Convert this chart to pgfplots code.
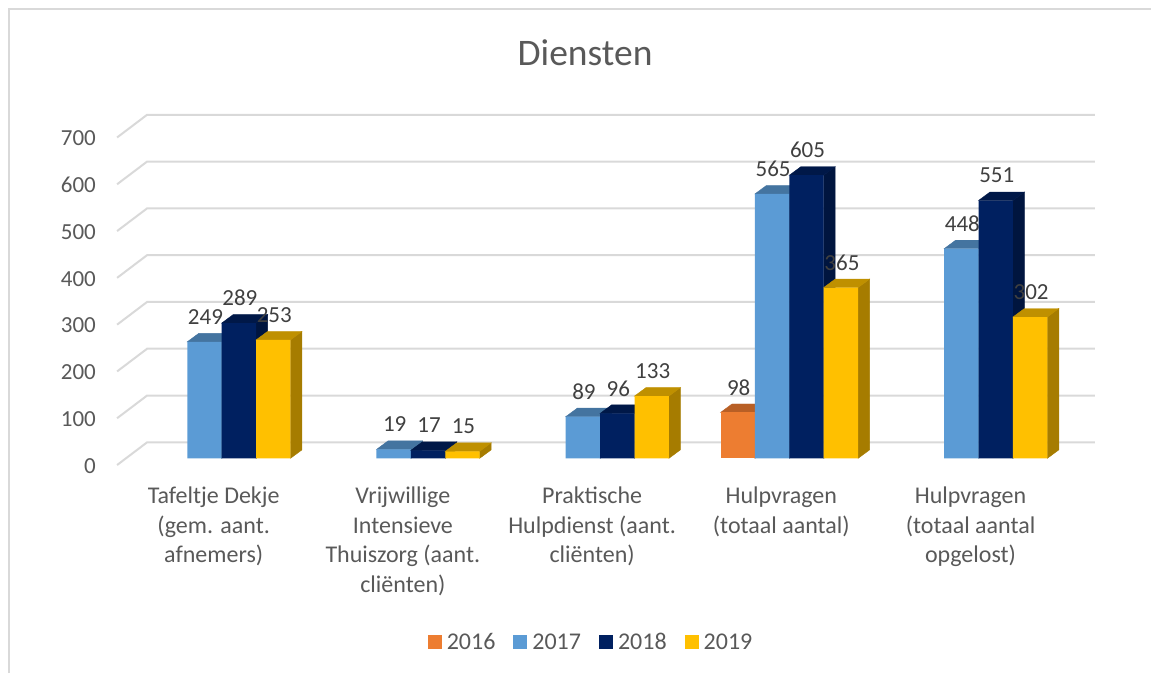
\documentclass[border=0pt]{standalone}
\usepackage{fontspec}
\setmainfont{Carlito}
\usepackage{pgfplots}
\pgfplotsset{compat=1.18}
\definecolor{c16}{HTML}{ED7D31}\definecolor{t16}{HTML}{B85F25}\definecolor{s16}{HTML}{A35420}
\definecolor{c17}{HTML}{5B9BD5}\definecolor{t17}{HTML}{4474A0}\definecolor{s17}{HTML}{3B658B}
\definecolor{c18}{HTML}{002060}\definecolor{t18}{HTML}{001848}\definecolor{s18}{HTML}{00153F}
\definecolor{c19}{HTML}{FFC000}\definecolor{t19}{HTML}{BF9000}\definecolor{s19}{HTML}{A67C00}
\definecolor{gridc}{HTML}{D9D9D9}
\pgfdeclareplotmark{nil}{}
% #1 colour suffix, #2 bar shift in pt
\pgfplotsset{faces/.style n args={2}{
  forget plot, only marks, scatter, mark=nil,
  visualization depends on={rawy \as \rawyval},
  scatter/@pre marker code/.code={%
    \pgfmathsetmacro\hh{\rawyval*0.468}%
    \fill[s#1] ({#2+17.2pt},0pt) -- ++(11.5pt,8.5pt) -- ++(0pt,-\hh pt) -- ++(-11.5pt,-8.5pt) -- cycle;
    \fill[t#1] ({#2-17.2pt},0pt) -- ++(11.5pt,8.5pt) -- ++(34.4pt,0pt) -- ++(-11.5pt,-8.5pt) -- cycle;
    \begingroup},
  scatter/@post marker code/.code={\endgroup},
}}
\pgfplotsset{front/.style n args={2}{
  ybar, bar width=34.4pt, bar shift=#2, fill=c#1, draw=none,
  nodes near coords, /pgf/number format/assume math mode=true,
  every node near coord/.append style={anchor=center, yshift=25pt, xshift=#2+1pt, text=black!75,
     font=\fontsize{23}{26}\selectfont, /pgf/number format/assume math mode=true},
}}
\begin{document}
\begin{tikzpicture}
\begin{axis}[
  scale only axis, width=1151pt, height=673pt,
  xmin=-1.1710, xmax=4.9110, ymin=-458.76, ymax=979.3,
  axis line style={draw=none}, major tick length=0pt,
  xtick={0,1,2,3,4},
  xticklabels={{Tafeltje Dekje\\(gem. aant.\\afnemers)},
    {Vrijwillige\\Intensieve\\Thuiszorg (aant.\\cliënten)},
    {Praktische\\Hulpdienst (aant.\\cliënten)},
    {Hulpvragen\\(totaal aantal)},
    {Hulpvragen\\(totaal aantal\\opgelost)}},
  xticklabel style={align=center, anchor=north, inner sep=0pt, xshift=-8pt, yshift=186pt,
     text=black!65, font=\fontsize{24}{29.5}\selectfont},
  ytick={0,100,...,700},
  yticklabel style={anchor=east, inner sep=0pt, xshift=96pt, yshift=-7.5pt,
     text=black!65, font=\fontsize{23}{26}\selectfont, /pgf/number format/assume math mode=true},
  title={Diensten},
  title style={at={(0.5083,0.9123)}, anchor=center, inner sep=0pt, text=black!65, font=\fontsize{37.5}{42}\selectfont},
  legend style={at={(0.5135,0.0460)}, anchor=center, draw=none, fill=none, legend columns=4,
     font=\fontsize{24}{28}\selectfont, text=black!65,
     /tikz/every odd column/.append style={column sep=3pt},
     /tikz/every even column/.append style={column sep=16pt}},
  legend image code/.code={\fill[#1] (0pt,-7pt) rectangle (14pt,7pt);},
  clip mode=individual,
]
% outer frame
\addplot[forget plot, gridc, line width=2pt] coordinates {(-1.1234,-458.76) (-1.1234,960.1) (4.911,960.1)};
% back wall grid with floor diagonals
\addplot[forget plot, gridc, line width=2pt] coordinates {(-0.5527,-14.3) (-0.3942,34.2) (4.6152,34.2)};
\addplot[forget plot, gridc, line width=2pt] coordinates {(-0.5527,85.7) (-0.3942,134.2) (4.6152,134.2)};
\addplot[forget plot, gridc, line width=2pt] coordinates {(-0.5527,185.7) (-0.3942,234.2) (4.6152,234.2)};
\addplot[forget plot, gridc, line width=2pt] coordinates {(-0.5527,285.7) (-0.3942,334.2) (4.6152,334.2)};
\addplot[forget plot, gridc, line width=2pt] coordinates {(-0.5527,385.7) (-0.3942,434.2) (4.6152,434.2)};
\addplot[forget plot, gridc, line width=2pt] coordinates {(-0.5527,485.7) (-0.3942,534.2) (4.6152,534.2)};
\addplot[forget plot, gridc, line width=2pt] coordinates {(-0.5527,585.7) (-0.3942,634.2) (4.6152,634.2)};
\addplot[forget plot, gridc, line width=2pt] coordinates {(-0.5527,685.7) (-0.3942,734.2) (4.6152,734.2)};
% 2016
\addplot[faces={16}{-51.6pt}] coordinates {(3,98)};
\addplot[front={16}{-51.6pt}] coordinates {(3,98)};
\addlegendentry{2016}
% 2017
\addplot[faces={17}{-17.2pt}] coordinates {(0,249) (1,19) (2,89) (3,565) (4,448)};
\addplot[front={17}{-17.2pt}] coordinates {(0,249) (1,19) (2,89) (3,565) (4,448)};
\addlegendentry{2017}
% 2018
\addplot[faces={18}{17.2pt}] coordinates {(0,289) (1,17) (2,96) (3,605) (4,551)};
\addplot[front={18}{17.2pt}] coordinates {(0,289) (1,17) (2,96) (3,605) (4,551)};
\addlegendentry{2018}
% 2019
\addplot[faces={19}{51.6pt}] coordinates {(0,253) (1,15) (2,133) (3,365) (4,302)};
\addplot[front={19}{51.6pt}] coordinates {(0,253) (1,15) (2,133) (3,365) (4,302)};
\addlegendentry{2019}
\end{axis}
\end{tikzpicture}
\end{document}
